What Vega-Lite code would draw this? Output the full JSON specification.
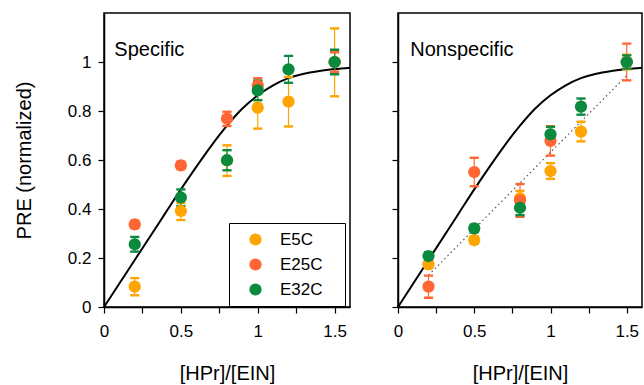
{
  "$schema": "https://vega.github.io/schema/vega-lite/v6.json",
  "padding": {"left": 13, "top": 12, "right": 0, "bottom": 0},
  "autosize": {"type": "pad"},
  "config": {
    "font": "Liberation Sans",
    "view": {"stroke": "black", "strokeWidth": 1.5},
    "axis": {"domainColor": "black", "domainWidth": 1.5, "tickColor": "black", "tickWidth": 1.2, "tickSize": 6, "labelColor": "black", "labelFontSize": 17, "titleFontSize": 20, "titleFontWeight": "normal", "titleColor": "black", "grid": false, "labelFont": "Liberation Sans", "titleFont": "Liberation Sans"},
    "concat": {"spacing": 35}
  },
  "datasets": {
    "curve": [
      {"x": 0, "y": 0}, {"x": 0.1, "y": 0.096}, {"x": 0.2, "y": 0.192}, {"x": 0.3, "y": 0.288}, {"x": 0.4, "y": 0.384}, {"x": 0.5, "y": 0.48}, {"x": 0.6, "y": 0.572}, {"x": 0.7, "y": 0.66}, {"x": 0.8, "y": 0.74}, {"x": 0.9, "y": 0.81}, {"x": 1.0, "y": 0.864}, {"x": 1.1, "y": 0.905}, {"x": 1.2, "y": 0.934}, {"x": 1.3, "y": 0.952}, {"x": 1.4, "y": 0.963}, {"x": 1.5, "y": 0.971}, {"x": 1.6, "y": 0.977}
    ],
    "fit": [{"x": 0.2, "y": 0.13}, {"x": 1.5, "y": 0.945}],
    "pts": [
      {"panel": "Specific", "series": "E5C", "x": 0.2, "y": 0.083, "lo": 0.048, "hi": 0.118},
      {"panel": "Specific", "series": "E5C", "x": 0.5, "y": 0.392, "lo": 0.355, "hi": 0.425},
      {"panel": "Specific", "series": "E5C", "x": 0.8, "y": 0.598, "lo": 0.535, "hi": 0.66},
      {"panel": "Specific", "series": "E5C", "x": 1.0, "y": 0.814, "lo": 0.728, "hi": 0.905},
      {"panel": "Specific", "series": "E5C", "x": 1.2, "y": 0.838, "lo": 0.737, "hi": 0.939},
      {"panel": "Specific", "series": "E5C", "x": 1.5, "y": 1.0, "lo": 0.86, "hi": 1.137},
      {"panel": "Specific", "series": "E25C", "x": 0.2, "y": 0.337, "lo": 0.322, "hi": 0.352},
      {"panel": "Specific", "series": "E25C", "x": 0.5, "y": 0.578, "lo": 0.563, "hi": 0.593},
      {"panel": "Specific", "series": "E25C", "x": 0.8, "y": 0.769, "lo": 0.739, "hi": 0.797},
      {"panel": "Specific", "series": "E25C", "x": 1.0, "y": 0.904, "lo": 0.874, "hi": 0.934},
      {"panel": "Specific", "series": "E25C", "x": 1.5, "y": 1.0, "lo": 0.96, "hi": 1.04},
      {"panel": "Specific", "series": "E32C", "x": 0.2, "y": 0.256, "lo": 0.226, "hi": 0.286},
      {"panel": "Specific", "series": "E32C", "x": 0.5, "y": 0.447, "lo": 0.412, "hi": 0.48},
      {"panel": "Specific", "series": "E32C", "x": 0.8, "y": 0.599, "lo": 0.558, "hi": 0.64},
      {"panel": "Specific", "series": "E32C", "x": 1.0, "y": 0.884, "lo": 0.844, "hi": 0.924},
      {"panel": "Specific", "series": "E32C", "x": 1.2, "y": 0.97, "lo": 0.915, "hi": 1.025},
      {"panel": "Specific", "series": "E32C", "x": 1.5, "y": 1.0, "lo": 0.95, "hi": 1.05},
      {"panel": "Nonspecific", "series": "E5C", "x": 0.2, "y": 0.174, "lo": 0.159, "hi": 0.189},
      {"panel": "Nonspecific", "series": "E5C", "x": 0.5, "y": 0.273, "lo": 0.258, "hi": 0.288},
      {"panel": "Nonspecific", "series": "E5C", "x": 0.8, "y": 0.444, "lo": 0.414, "hi": 0.474},
      {"panel": "Nonspecific", "series": "E5C", "x": 1.0, "y": 0.555, "lo": 0.523, "hi": 0.587},
      {"panel": "Nonspecific", "series": "E5C", "x": 1.2, "y": 0.716, "lo": 0.676, "hi": 0.756},
      {"panel": "Nonspecific", "series": "E5C", "x": 1.5, "y": 1.0, "lo": 0.97, "hi": 1.03},
      {"panel": "Nonspecific", "series": "E25C", "x": 0.2, "y": 0.083, "lo": 0.038, "hi": 0.128},
      {"panel": "Nonspecific", "series": "E25C", "x": 0.5, "y": 0.551, "lo": 0.493, "hi": 0.609},
      {"panel": "Nonspecific", "series": "E25C", "x": 0.8, "y": 0.435, "lo": 0.368, "hi": 0.502},
      {"panel": "Nonspecific", "series": "E25C", "x": 1.0, "y": 0.678, "lo": 0.618, "hi": 0.738},
      {"panel": "Nonspecific", "series": "E25C", "x": 1.5, "y": 1.0, "lo": 0.925, "hi": 1.075},
      {"panel": "Nonspecific", "series": "E32C", "x": 0.2, "y": 0.208, "lo": 0.193, "hi": 0.223},
      {"panel": "Nonspecific", "series": "E32C", "x": 0.5, "y": 0.321, "lo": 0.306, "hi": 0.336},
      {"panel": "Nonspecific", "series": "E32C", "x": 0.8, "y": 0.405, "lo": 0.375, "hi": 0.435},
      {"panel": "Nonspecific", "series": "E32C", "x": 1.0, "y": 0.705, "lo": 0.675, "hi": 0.735},
      {"panel": "Nonspecific", "series": "E32C", "x": 1.2, "y": 0.818, "lo": 0.785, "hi": 0.851},
      {"panel": "Nonspecific", "series": "E32C", "x": 1.5, "y": 1.0, "lo": 0.973, "hi": 1.027}
    ],
    "labels": [
      {"panel": "Specific", "x": 0.067, "y": 1.025},
      {"panel": "Nonspecific", "x": 0.08, "y": 1.025}
    ]
  },
  "hconcat": [
    {
      "width": 246,
      "height": 294,
      "layer": [
        {
          "data": {"name": "curve"},
          "mark": {"type": "line", "color": "black", "strokeWidth": 2, "interpolate": "monotone"},
          "encoding": {
            "x": {"field": "x", "type": "quantitative", "scale": {"domain": [0, 1.6], "nice": false, "zero": false},
              "axis": {"values": [0, 0.25, 0.5, 0.75, 1, 1.25, 1.5], "labelExpr": "datum.value % 0.5 === 0 ? format(datum.value, '~g') : ''", "title": "[HPr]/[EIN]", "labelPadding": 10, "titlePadding": 24, "labelFlush": false, "labelOverlap": false, "labelBound": false}},
            "y": {"field": "y", "type": "quantitative", "scale": {"domain": [0, 1.2], "nice": false},
              "axis": {"values": [0, 0.2, 0.4, 0.6, 0.8, 1], "format": "~g", "title": "PRE (normalized)", "labelPadding": 7, "titlePadding": 33}}
          }
        },
        {
          "data": {"name": "pts"},
          "transform": [{"filter": "datum.panel === 'Specific'"}],
          "mark": {"type": "rule", "strokeWidth": 1.2},
          "encoding": {
            "x": {"field": "x", "type": "quantitative"},
            "y": {"field": "lo", "type": "quantitative"},
            "y2": {"field": "hi"},
            "stroke": {"field": "series", "type": "nominal", "scale": {"domain": ["E32C", "E25C", "E5C"], "range": ["#0A8A3D", "#FF6633", "#FFA500"]}, "legend": null}
          }
        },
        {
          "data": {"name": "pts"},
          "transform": [{"filter": "datum.panel === 'Specific'"}],
          "mark": {"type": "tick", "orient": "horizontal", "size": 8, "thickness": 1.2, "opacity": 1, "filled": false, "strokeWidth": 1.2},
          "encoding": {
            "x": {"field": "x", "type": "quantitative"},
            "y": {"field": "lo", "type": "quantitative"},
            "stroke": {"field": "series", "type": "nominal", "legend": null}
          }
        },
        {
          "data": {"name": "pts"},
          "transform": [{"filter": "datum.panel === 'Specific'"}],
          "mark": {"type": "tick", "orient": "horizontal", "size": 8, "thickness": 1.2, "opacity": 1, "filled": false, "strokeWidth": 1.2},
          "encoding": {
            "x": {"field": "x", "type": "quantitative"},
            "y": {"field": "hi", "type": "quantitative"},
            "stroke": {"field": "series", "type": "nominal", "legend": null}
          }
        },
        {
          "data": {"name": "pts"},
          "transform": [{"filter": "datum.panel === 'Specific'"}],
          "mark": {"type": "point", "shape": "circle", "filled": true, "size": 150, "opacity": 1},
          "encoding": {
            "x": {"field": "x", "type": "quantitative"},
            "y": {"field": "y", "type": "quantitative"},
            "color": {"field": "series", "type": "nominal", "scale": {"domain": ["E5C", "E25C", "E32C"], "range": ["#FFA500", "#FF6633", "#0A8A3D"]},
              "legend": {"orient": "none", "legendX": 125, "legendY": 210, "title": null, "strokeColor": "black", "fillColor": "white", "padding": 8, "symbolSize": 150, "symbolType": "circle", "symbolStrokeWidth": 0, "symbolOpacity": 1, "labelFontSize": 17, "labelColor": "black", "labelFont": "Liberation Sans", "labelOffset": 16, "rowPadding": 7, "symbolOffset": 10, "labelExpr": "datum.label + '\u00a0\u00a0\u00a0\u200b'"}}
          }
        },
        {
          "data": {"name": "labels"},
          "transform": [{"filter": "datum.panel === 'Specific'"}],
          "mark": {"type": "text", "align": "left", "baseline": "alphabetic", "fontSize": 20, "font": "Liberation Sans", "color": "black"},
          "encoding": {
            "x": {"field": "x", "type": "quantitative"},
            "y": {"field": "y", "type": "quantitative"},
            "text": {"field": "panel"}
          }
        }
      ]
    },
    {
      "width": 244,
      "height": 294,
      "layer": [
        {
          "data": {"name": "curve"},
          "mark": {"type": "line", "color": "black", "strokeWidth": 2, "interpolate": "monotone"},
          "encoding": {
            "x": {"field": "x", "type": "quantitative", "scale": {"domain": [0, 1.6], "nice": false, "zero": false},
              "axis": {"values": [0, 0.25, 0.5, 0.75, 1, 1.25, 1.5], "labelExpr": "datum.value % 0.5 === 0 ? format(datum.value, '~g') : ''", "title": "[HPr]/[EIN]", "labelPadding": 10, "titlePadding": 24, "labelFlush": false, "labelOverlap": false, "labelBound": false}},
            "y": {"field": "y", "type": "quantitative", "scale": {"domain": [0, 1.2], "nice": false},
              "axis": {"values": [0, 0.2, 0.4, 0.6, 0.8, 1], "labels": false, "title": ""}}
          }
        },
        {
          "data": {"name": "fit"},
          "mark": {"type": "line", "color": "#555555", "strokeWidth": 1.2, "strokeDash": [1.5, 3]},
          "encoding": {
            "x": {"field": "x", "type": "quantitative"},
            "y": {"field": "y", "type": "quantitative"}
          }
        },
        {
          "data": {"name": "pts"},
          "transform": [{"filter": "datum.panel === 'Nonspecific'"}],
          "mark": {"type": "rule", "strokeWidth": 1.2},
          "encoding": {
            "x": {"field": "x", "type": "quantitative"},
            "y": {"field": "lo", "type": "quantitative"},
            "y2": {"field": "hi"},
            "stroke": {"field": "series", "type": "nominal", "scale": {"domain": ["E32C", "E25C", "E5C"], "range": ["#0A8A3D", "#FF6633", "#FFA500"]}, "legend": null}
          }
        },
        {
          "data": {"name": "pts"},
          "transform": [{"filter": "datum.panel === 'Nonspecific'"}],
          "mark": {"type": "tick", "orient": "horizontal", "size": 8, "thickness": 1.2, "opacity": 1, "filled": false, "strokeWidth": 1.2},
          "encoding": {
            "x": {"field": "x", "type": "quantitative"},
            "y": {"field": "lo", "type": "quantitative"},
            "stroke": {"field": "series", "type": "nominal", "legend": null}
          }
        },
        {
          "data": {"name": "pts"},
          "transform": [{"filter": "datum.panel === 'Nonspecific'"}],
          "mark": {"type": "tick", "orient": "horizontal", "size": 8, "thickness": 1.2, "opacity": 1, "filled": false, "strokeWidth": 1.2},
          "encoding": {
            "x": {"field": "x", "type": "quantitative"},
            "y": {"field": "hi", "type": "quantitative"},
            "stroke": {"field": "series", "type": "nominal", "legend": null}
          }
        },
        {
          "data": {"name": "pts"},
          "transform": [{"filter": "datum.panel === 'Nonspecific'"}],
          "mark": {"type": "point", "shape": "circle", "filled": true, "size": 150, "opacity": 1},
          "encoding": {
            "x": {"field": "x", "type": "quantitative"},
            "y": {"field": "y", "type": "quantitative"},
            "color": {"field": "series", "type": "nominal"}
          }
        },
        {
          "data": {"name": "labels"},
          "transform": [{"filter": "datum.panel === 'Nonspecific'"}],
          "mark": {"type": "text", "align": "left", "baseline": "alphabetic", "fontSize": 20, "font": "Liberation Sans", "color": "black"},
          "encoding": {
            "x": {"field": "x", "type": "quantitative"},
            "y": {"field": "y", "type": "quantitative"},
            "text": {"field": "panel"}
          }
        }
      ]
    }
  ]
}
